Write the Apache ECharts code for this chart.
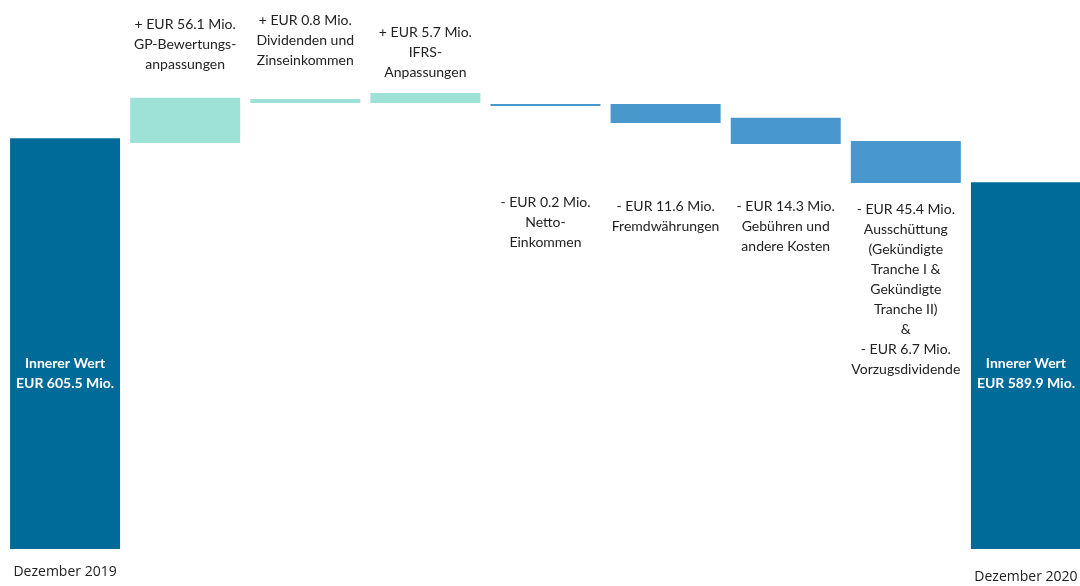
<!DOCTYPE html>
<html>
<head>
<meta charset="utf-8">
<script src="https://cdn.jsdelivr.net/npm/echarts@6/dist/echarts.min.js"></script>
<style>
html,body{margin:0;padding:0;background:#fff;}
#chart{width:1080px;height:586px;}
</style>
</head>
<body>
<div id="chart"></div>
<script>
// ---- data ----
const categories = ['Dezember 2019', 'GP-Bewertungsanpassungen', 'Dividenden und Zinseinkommen', 'IFRS-Anpassungen', 'Netto-Einkommen', 'Fremdwährungen', 'Gebühren und andere Kosten', 'Ausschüttung & Vorzugsdividende', 'Dezember 2020'];
const tickLabels = ['Dezember 2019', '', '', '', '', '', '', '', 'Dezember 2020'];
const barKind = ['total', 'up', 'up', 'up', 'down', 'down', 'down', 'down', 'total'];
// bar extents as drawn in the picture (the reference is not to scale with its labels)
const barLow  = [0,     603.8, 618.0, 618.0, 616.9, 610.9, 603.4, 589.6, 0];
const barHigh = [605.5, 619.8, 619.4, 621.5, 617.6, 617.6, 612.7, 604.5, 589.9];
const barLabels = [
  'Innerer Wert\nEUR 605.5 Mio.',
  '+ EUR 56.1 Mio.\nGP-Bewertungs-\nanpassungen',
  '+ EUR 0.8 Mio.\nDividenden und\nZinseinkommen',
  '+ EUR 5.7 Mio.\nIFRS-\nAnpassungen',
  '- EUR 0.2 Mio.\nNetto-\nEinkommen',
  '- EUR 11.6 Mio.\nFremdwährungen',
  '- EUR 14.3 Mio.\nGebühren und\nandere Kosten',
  '- EUR 45.4 Mio.\nAusschüttung\n(Gekündigte\nTranche I &\nGekündigte\nTranche II)\n&\n- EUR 6.7 Mio.\nVorzugsdividende',
  'Innerer Wert\nEUR 589.9 Mio.'
];

// ---- style ----
const COLORS = { total: '#006b99', up: '#9ee2d7', down: '#4998cd' };
const Y_MIN = 459.8, Y_MAX = 654.5;
const UP_LABEL_TOP = 14;     // px from top of plot
const DOWN_LABEL_TOP = 196;  // px from top of plot
const LABEL_NUDGE = [0, 0, -4, 8, -4, 0, 0, 3, 0]; // small per-label vertical nudges (px)

const chart = echarts.init(document.getElementById('chart'), null, { renderer: 'canvas' });

const baseData = barLow.map(v => v);
const deltaData = barHigh.map((h, i) => ({
  value: +(h - barLow[i]).toFixed(2),
  itemStyle: { color: COLORS[barKind[i]] },
  label: barKind[i] === 'total' ? {
    show: true,
    position: 'insideBottom',
    distance: 156,
    formatter: barLabels[i],
    color: '#ffffff',
    fontFamily: 'Lato',
    fontWeight: 'bold',
    fontSize: 14,
    lineHeight: 20,
    align: 'center'
  } : { show: false }
}));

const option = {
  animation: false,
  backgroundColor: '#ffffff',
  grid: { left: 5, top: 0, right: -6, height: 549, outerBoundsMode: 'none', containLabel: false },
  xAxis: {
    type: 'category',
    data: categories,
    axisLine: { show: false },
    axisTick: { show: false },
    axisLabel: {
      interval: 0,
      margin: 16,
      color: '#222',
      fontFamily: 'Open Sans',
      fontSize: 14,
      formatter: (v, i) => tickLabels[i] ? (i === categories.length - 1 ? '{late|' + tickLabels[i] + '}' : tickLabels[i]) : '',
      rich: {
        late: { padding: [5, 0, 0, 0], color: '#222', fontFamily: 'Open Sans', fontSize: 14 }
      }
    }
  },
  yAxis: {
    type: 'value',
    min: Y_MIN,
    max: Y_MAX,
    show: false,
    splitLine: { show: false }
  },
  series: [
    {
      type: 'bar',
      stack: 'w',
      barWidth: 110,
      clip: true,
      itemStyle: { color: 'transparent' },
      emphasis: { disabled: true },
      data: baseData
    },
    {
      type: 'bar',
      stack: 'w',
      barWidth: 110,
      clip: true,
      data: deltaData
    },
    {
      type: 'custom',
      silent: true,
      clip: false,
      data: categories.map((c, i) => [i, Y_MAX]),
      encode: { x: 0, y: 1 },
      renderItem: function (params, api) {
        const i = params.dataIndex;
        if (barKind[i] === 'total') return null;
        const top = api.coord([i, Y_MAX]);
        const y = top[1] + (barKind[i] === 'up' ? UP_LABEL_TOP : DOWN_LABEL_TOP) + LABEL_NUDGE[i];
        return {
          type: 'text',
          x: top[0],
          y: y,
          style: {
            text: barLabels[i],
            fill: '#222',
            fontFamily: 'Lato',
            fontSize: 14,
            lineHeight: 20,
            align: 'center',
            verticalAlign: 'top'
          }
        };
      }
    }
  ]
};

chart.setOption(option);
</script>
</body>
</html>
